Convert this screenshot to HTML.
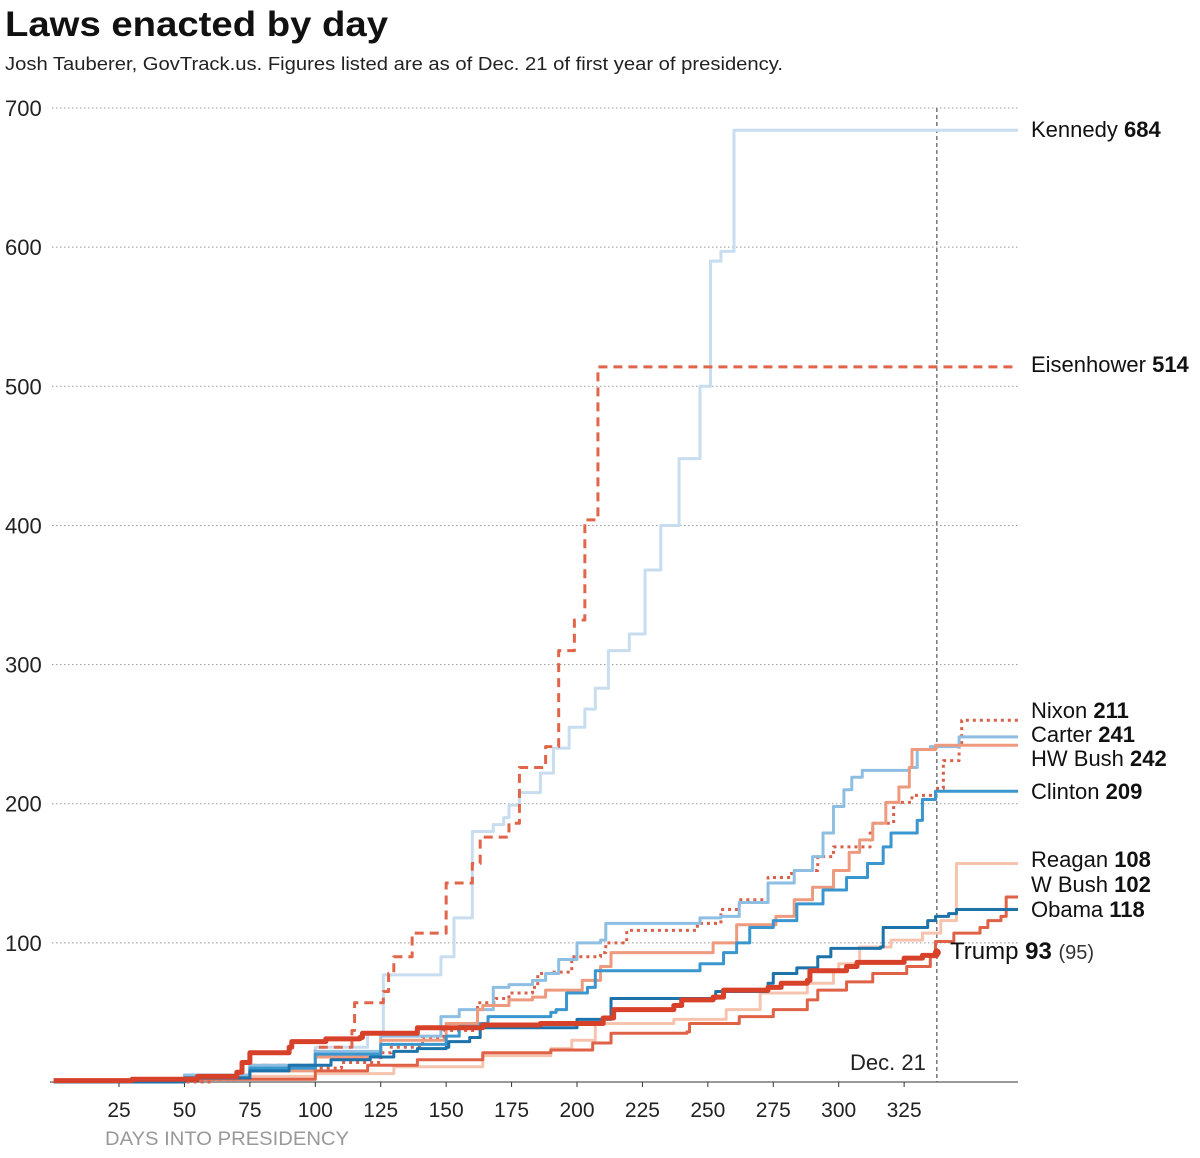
<!DOCTYPE html>
<html><head><meta charset="utf-8"><style>
body{margin:0;background:#fff;font-family:"Liberation Sans",sans-serif}
svg text{font-family:"Liberation Sans",sans-serif}
</style></head><body>
<svg id="chart" width="1200" height="1153" viewBox="0 0 1200 1153">
<text x="5" y="36" font-size="35" font-weight="bold" fill="#111" textLength="383" lengthAdjust="spacingAndGlyphs">Laws enacted by day</text>
<text x="5" y="70" font-size="18" fill="#222" textLength="778" lengthAdjust="spacingAndGlyphs">Josh Tauberer, GovTrack.us. Figures listed are as of Dec. 21 of first year of presidency.</text>
<g id="grid"></g><g id="series"></g><g id="labels"></g>
</svg>
<script>
const yTicks=[100,200,300,400,500,600,700];
const xTicks=[25,50,75,100,125,150,175,200,225,250,275,300,325];
const dec21Day=337.5;
const names=["Kennedy","Eisenhower","Nixon","Carter","HW Bush","Clinton","Reagan","W Bush","Obama","Trump"];
const finals=[684,514,211,241,242,209,108,102,118,93];
const kennedy=[[0,0],[50,5],[75,10],[100,25],[120,35],[126,77],[148,90],[153,118],[160,180],[168,185],[172,190],[174,199],[178,208],[186,222],[191,240],[197,255],[203,268],[207,283],[212,310],[220,322],[226,368],[232,400],[239,448],[247,500],[251,590],[255,597],[260,684]];
const eisenhower=[[0,0],[50,5],[75,12],[100,25],[114,37],[115,57],[126,65],[128,78],[130,90],[137,107],[148,107],[150,143],[160,157],[163,176],[174,186],[178,226],[188,241],[193,310],[199,332],[203,404],[208,514]];
const nixon=[[0,0],[60,2],[70,5],[75,8],[90,10],[110,14],[125,21],[129,25],[141,32],[149,37],[162,57],[169,60],[174,64],[183,68],[185,78],[190,79],[198,90],[209,93],[211,100],[219,109],[240,109],[246,114],[255,124],[262,131],[273,147],[282,152],[292,162],[298,169],[312,179],[313,186],[321,201],[328,206],[337,211],[340,231],[346,241],[347,260]];
const carter=[[0,0],[50,5],[75,12],[100,22],[125,33],[148,47],[155,52],[168,68],[174,70],[183,73],[188,78],[193,88],[200,100],[209,102],[211,114],[244,114],[247,118],[255,119],[262,129],[273,143],[283,152],[290,162],[294,179],[298,198],[302,210],[305,219],[309,224],[327,226],[330,239],[335,241],[346,248]];
const hwbush=[[0,0],[50,3],[75,8],[100,18],[125,30],[150,42],[162,52],[164,55],[174,59],[183,61],[188,66],[202,73],[209,83],[213,93],[239,93],[252,100],[261,113],[276,119],[283,131],[290,140],[298,152],[304,165],[308,174],[313,186],[318,201],[323,212],[327,226],[328,239],[337,242]];
const clinton=[[0,0],[50,3],[75,10],[100,20],[125,27],[150,33],[155,40],[163,42],[166,47],[190,50],[192,52],[196,64],[204,68],[207,80],[244,80],[247,85],[256,93],[261,100],[266,111],[275,116],[284,128],[294,138],[303,147],[311,157],[317,169],[320,179],[330,188],[332,203],[337,209]];
const reagan=[[0,0],[50,2],[75,4],[100,6],[130,11],[164,19],[190,24],[198,30],[207,42],[237,45],[257,52],[270,64],[288,71],[298,80],[300,85],[308,97],[320,102],[332,107],[339,116],[345,157]];
const wbush=[[0,0],[50,2],[100,8],[120,12],[139,16],[164,21],[190,23],[206,28],[213,35],[242,36],[243,42],[262,47],[275,52],[288,59],[292,66],[303,72],[313,78],[326,83],[335,90],[337,101],[344,107],[354,111],[357,116],[362,119],[364,133]];
const obama=[[0,0],[50,3],[75,8],[90,12],[106,16],[121,18],[130,22],[139,24],[150,25],[151,29],[159,32],[163,39],[200,45],[213,60],[253,65],[273,71],[275,78],[284,82],[292,90],[297,96],[316,97],[317,111],[330,111],[334,116],[337,119],[342,121],[345,124]];
const trump=[[0,1],[30,2],[55,4],[70,7],[72,14],[75,21],[90,25],[91,29],[104,31],[117,32],[118,35],[139,39],[164,41],[186,42],[210,46],[214,52],[237,55],[240,59],[252,61],[256,66],[273,68],[278,71],[288,73],[289,80],[303,83],[307,86],[325,89],[332,91],[337.5,93]];
const seriesData=[kennedy,eisenhower,nixon,carter,hwbush,clinton,reagan,wbush,obama,trump];
const colors=["#c8ddf0","#e0654a","#d9604a","#8ebfe2","#ee9a7e","#3a96cf","#f6c4ae","#df6247","#1d72aa","#d7412a"];
const widths=[3,3,3,3,3,3,3,3,3,5];
const dashes=["","9,6","3,4","","","","","","",""];
const labelY=[130,365,711,735,759,792,860,885,910,952];

const NS="http://www.w3.org/2000/svg";
const X0=53.6,XS=2.617,Y0=1082,YS=1.3914,XEND=1018;
const xs=d=>X0+d*XS, ys=v=>Y0-v*YS;
function mk(tag,attrs,parent){const e=document.createElementNS(NS,tag);for(const k in attrs)e.setAttribute(k,attrs[k]);parent.appendChild(e);return e;}
const grid=document.getElementById('grid'),sg=document.getElementById('series'),lg=document.getElementById('labels');
yTicks.forEach(v=>{
 const l=mk('line',{x1:52,x2:XEND,y1:ys(v),y2:ys(v),stroke:'#999','stroke-dasharray':'1.5,2.5','stroke-width':1},grid);
 
 
 const t=mk('text',{x:5,y:ys(v)+8,'font-size':22,fill:'#222'},grid);t.textContent=v;
 
 
});
const ax=mk('line',{x1:50,x2:XEND,y1:Y0,y2:Y0,stroke:'#333','stroke-width':1},grid);


xTicks.forEach(d=>{
 const tk=mk('line',{x1:xs(d),x2:xs(d),y1:Y0,y2:Y0+5,stroke:'#333'},grid);
 
 
 const t=mk('text',{x:xs(d),y:1117,'font-size':21,fill:'#222','text-anchor':'middle'},grid);t.textContent=d;
 
 
});
const xt=mk('text',{x:105,y:1145,'font-size':19,fill:'#999',textLength:244,lengthAdjust:'spacingAndGlyphs'},grid);xt.textContent='DAYS INTO PRESIDENCY';


const dl=mk('line',{x1:xs(dec21Day),x2:xs(dec21Day),y1:108,y2:Y0,stroke:'#555','stroke-dasharray':'4,3','stroke-width':1.2},grid);


const dt=mk('text',{x:xs(dec21Day)-11,y:1070,'font-size':22,fill:'#222','text-anchor':'end'},grid);dt.textContent='Dec. 21';



seriesData.forEach((pts,i)=>{
 let d='M'+xs(pts[0][0])+','+ys(pts[0][1]);
 for(let j=1;j<pts.length;j++){d+=' H'+xs(pts[j][0])+' V'+ys(pts[j][1]);}
 if(i!==9)d+=' H'+XEND;
 const p=mk('path',{d:d,fill:'none',stroke:colors[i],'stroke-width':widths[i],'stroke-dasharray':dashes[i],'stroke-linejoin':'round'},sg);
 
 
 const last=pts[pts.length-1];
 if(i===9){
  const c=mk('circle',{cx:xs(last[0]),cy:ys(last[1]),r:4,fill:colors[i]},sg);
  
  
 }
 const t=mk('text',{x:i===9?950:1031,y:labelY[i]+7,'font-size':i===9?24:22,fill:'#111'},lg);
 t.innerHTML=names[i]+' <tspan font-weight="bold">'+finals[i]+'</tspan>'+(i===9?' <tspan font-size="20" fill="#333">(95)</tspan>':'');
 
 
});
</script>
</body></html>
